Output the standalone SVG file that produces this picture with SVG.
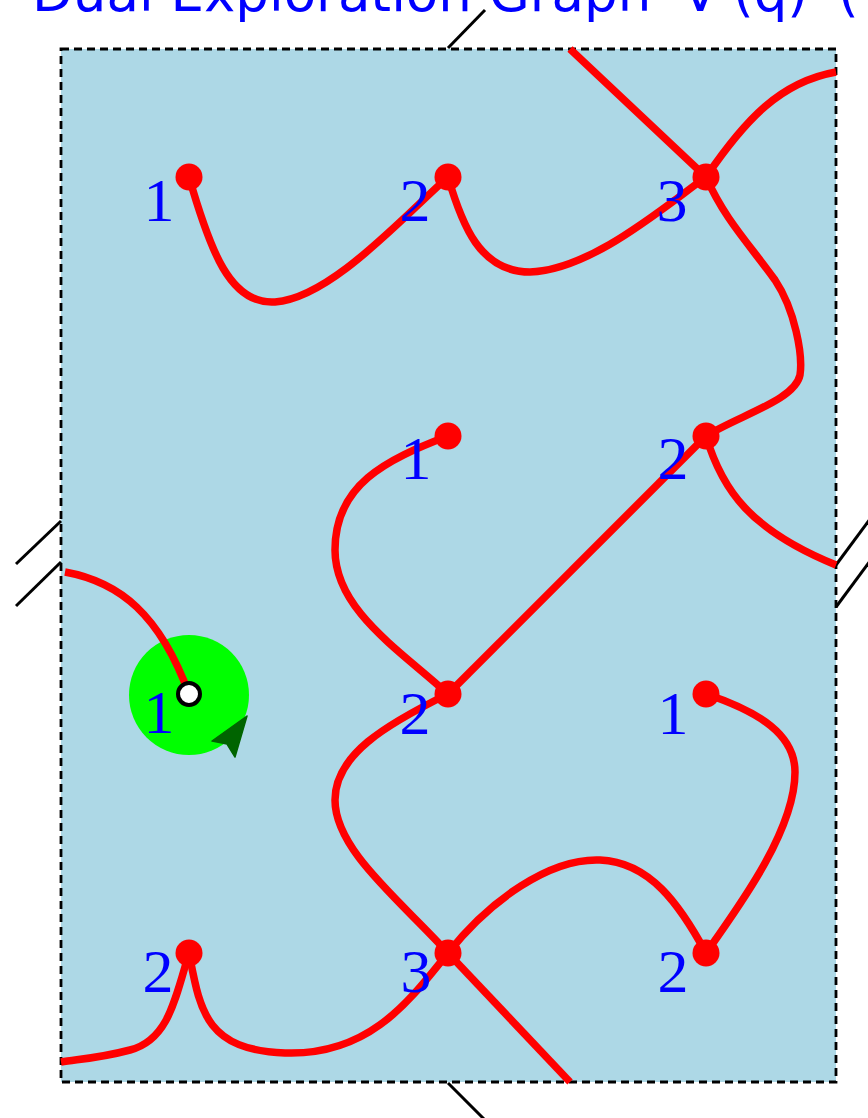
<svg xmlns="http://www.w3.org/2000/svg" width="868" height="1118" viewBox="0 0 868 1118">
<style>
.edge{fill:none;stroke:#ff0000;stroke-width:7.5;stroke-linejoin:round;stroke-linecap:butt}
.wrap{fill:none;stroke:#000;stroke-width:3}
.dot{fill:#ff0000}
.lbl{font-family:"Liberation Serif","DejaVu Serif",serif;font-size:62px;fill:#0000ff;text-anchor:middle}
.title{font-family:"DejaVu Sans","Liberation Sans",sans-serif;font-size:53px;fill:#0000ff}
</style>
<rect width="868" height="1118" fill="#ffffff"/>
<g id="title"><text class="title" y="11"><tspan x="32">Dual Exploration Graph</tspan><tspan x="682">V</tspan><tspan x="733">(q)</tspan><tspan x="838">(</tspan></text></g>
<g id="frame">
<rect x="61" y="49" width="775" height="1033" fill="#add8e6" stroke="#000" stroke-width="2.8" stroke-dasharray="8 5"/>
</g>
<g id="wraps">
<line class="wrap" x1="448" y1="48" x2="485" y2="10"/>
<line class="wrap" x1="61" y1="521" x2="16" y2="564"/>
<line class="wrap" x1="61" y1="562" x2="16" y2="606"/>
<line class="wrap" x1="836" y1="565" x2="870" y2="519"/>
<line class="wrap" x1="836" y1="607" x2="870" y2="561"/>
<line class="wrap" x1="448" y1="1083" x2="484" y2="1119"/>
</g>
<g id="highlight">
<circle cx="189" cy="695" r="60" fill="#00ff00"/>
<polygon points="247,716 212,741 227,744 235,757" fill="#006400" stroke="#006400" stroke-width="1.5" stroke-linejoin="round"/>
</g>
<g id="connectors">
<path class="edge" d="M189,177 C210,250 230,305 275,302 C330,298 400,220 448,177"/>
<path class="edge" d="M448,177 C462,225 480,272 530,272 C590,270 660,210 706,177"/>
<path class="edge" d="M570,49 L706,177"/>
<path class="edge" d="M706,177 C745,120 780,82 836,72"/>
<path class="edge" d="M706,177 C725,220 750,245 775,280 C795,310 803,355 800,375 C795,400 740,415 706,436"/>
<path class="edge" d="M706,436 C722,490 750,530 836,565"/>
<path class="edge" d="M706,436 L448,694"/>
<path class="edge" d="M448,436 C385,460 335,485 335,550 C335,610 400,650 448,694"/>
<path class="edge" d="M65,572 C120,582 160,615 189,694"/>
<path class="edge" d="M448,694 C385,725 335,755 335,800 C335,850 400,900 448,953"/>
<path class="edge" d="M448,953 L570,1082"/>
<path class="edge" d="M448,953 C490,900 550,858 600,860 C650,862 680,905 706,953"/>
<path class="edge" d="M706,694 C760,712 795,735 795,772 C795,830 740,905 706,953"/>
<path class="edge" d="M189,953 C200,1010 205,1050 285,1053 C370,1056 410,1000 448,953"/>
<path class="edge" d="M189,953 C175,1000 168,1040 130,1050 C100,1058 80,1059 61,1062"/>
</g>
<g id="n-r1c1"><circle class="dot" cx="189" cy="177" r="13.5"/><text class="lbl" x="159" y="221">1</text></g>
<g id="n-r1c2"><circle class="dot" cx="448" cy="177" r="13.5"/><text class="lbl" x="415" y="221">2</text></g>
<g id="n-r1c3"><circle class="dot" cx="706" cy="177" r="13.5"/><text class="lbl" x="672" y="221">3</text></g>
<g id="n-r2c2"><circle class="dot" cx="448" cy="436" r="13.5"/><text class="lbl" x="416" y="479">1</text></g>
<g id="n-r2c3"><circle class="dot" cx="706" cy="436" r="13.5"/><text class="lbl" x="673" y="479">2</text></g>
<g id="n-r3c1"><circle cx="189" cy="694" r="11" fill="#ffffff" stroke="#000" stroke-width="4"/><text class="lbl" x="159" y="733">1</text></g>
<g id="n-r3c2"><circle class="dot" cx="448" cy="694" r="13.5"/><text class="lbl" x="415" y="734">2</text></g>
<g id="n-r3c3"><circle class="dot" cx="706" cy="694" r="13.5"/><text class="lbl" x="673" y="734">1</text></g>
<g id="n-r4c1"><circle class="dot" cx="189" cy="953" r="13.5"/><text class="lbl" x="158" y="992">2</text></g>
<g id="n-r4c2"><circle class="dot" cx="448" cy="953" r="13.5"/><text class="lbl" x="416" y="992">3</text></g>
<g id="n-r4c3"><circle class="dot" cx="706" cy="953" r="13.5"/><text class="lbl" x="673" y="992">2</text></g>
</svg>
